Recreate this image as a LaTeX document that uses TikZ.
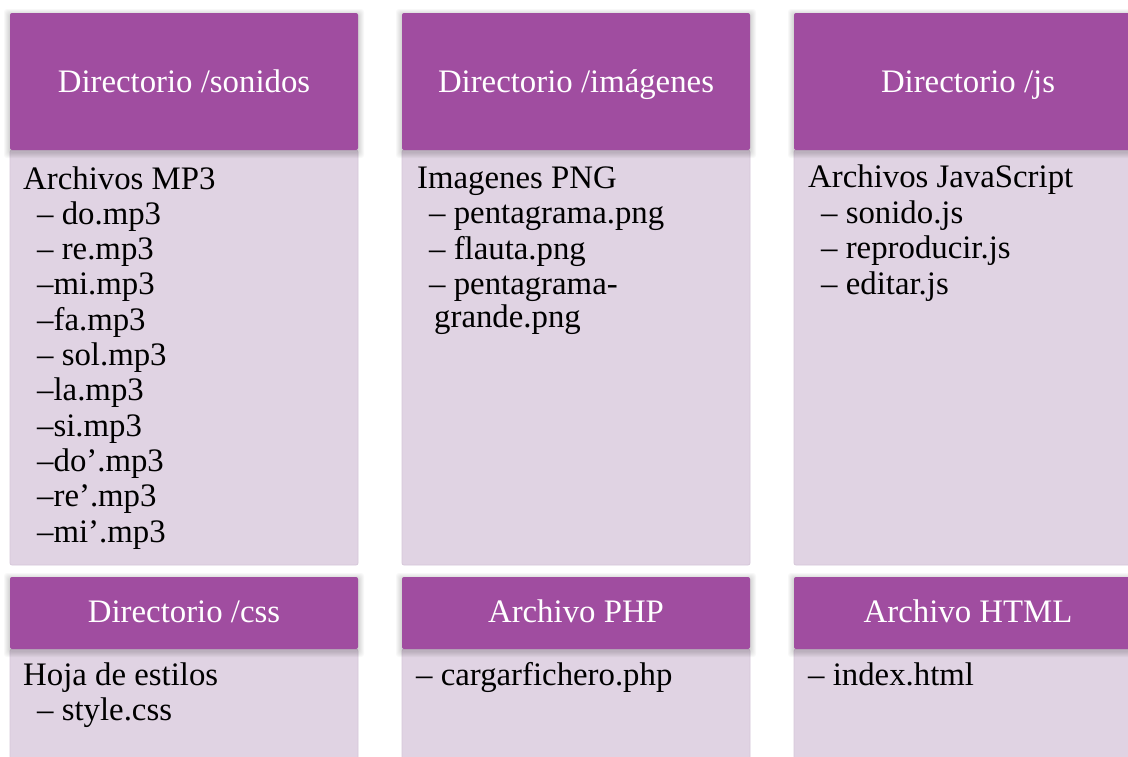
\documentclass[tikz,border=0pt]{standalone}
\usepackage{fontspec}
\setmainfont{Liberation Serif}
\definecolor{hdr}{RGB}{160,77,160}
\definecolor{bdy}{RGB}{224,211,227}
\definecolor{bdyline}{RGB}{214,199,218}
\newcommand\headbox[4]{%
  \foreach \i in {1,...,6}{\fill[black,opacity=0.028,rounded corners=3pt] (#1-\i,#2-\i+2) rectangle (#3+\i,#4+\i+2);}
  \fill[hdr,rounded corners=2pt] (#1,#2) rectangle (#3,#4);}
\newcommand\bodybox[4]{%
  \filldraw[fill=bdy,draw=bdyline,line width=0.8pt,rounded corners=2pt] (#1,#2) rectangle (#3,#4);}
\begin{document}
\begin{tikzpicture}[x=1pt,y=-1pt,
  hdrtext/.style={text=white,font=\fontsize{32.8}{36}\selectfont,anchor=base,inner sep=0pt},
  bodytext/.style={text=black,font=\fontsize{32.8}{36}\selectfont,anchor=base west,inner sep=0pt}]
\useasboundingbox (0,0) rectangle (1128,756);
\clip (0,0) rectangle (1128,756);
\fill[white] (0,0) rectangle (1128,756);
% row 1 bodies
\bodybox{10}{150}{358}{565}
\bodybox{402}{150}{750}{565}
\bodybox{794}{150}{1142}{565}
% row 1 headers
\headbox{10}{13}{358}{150}
\headbox{402}{13}{750}{150}
\headbox{794}{13}{1142}{150}
% row 2 bodies
\bodybox{10}{649}{358}{790}
\bodybox{402}{649}{750}{790}
\bodybox{794}{649}{1142}{790}
% row 2 headers
\headbox{10}{577}{358}{649}
\headbox{402}{577}{750}{649}
\headbox{794}{577}{1142}{649}
% header texts
\node[hdrtext] (h1) at (184,92) {Directorio /sonidos};
\node[hdrtext] (h2) at (576,92) {Directorio /imágenes};
\node[hdrtext] (h3) at (968,92) {Directorio /js};
\node[hdrtext] (h4) at (184,622) {Directorio /css};
\node[hdrtext] (h5) at (576,622) {Archivo PHP};
\node[hdrtext] (h6) at (968,622) {Archivo HTML};
% column 1 body
\node[bodytext] (a0) at (23,189) {Archivos MP3};
\node[bodytext] (a1) at (37,224.3) {– do.mp3};
\node[bodytext] (a2) at (37,259.6) {– re.mp3};
\node[bodytext] (a3) at (37,294.9) {–mi.mp3};
\node[bodytext] (a4) at (37,330.2) {–fa.mp3};
\node[bodytext] (a5) at (37,365.5) {– sol.mp3};
\node[bodytext] (a6) at (37,400.8) {–la.mp3};
\node[bodytext] (a7) at (37,436.1) {–si.mp3};
\node[bodytext] (a8) at (37,471.4) {–do’.mp3};
\node[bodytext] (a9) at (37,506.7) {–re’.mp3};
\node[bodytext] (a10) at (37,542) {–mi’.mp3};
% column 2 body
\node[bodytext] (b0) at (417,188) {Imagenes PNG};
\node[bodytext] (b1) at (429,223.5) {– pentagrama.png};
\node[bodytext] (b2) at (429,259) {– flauta.png};
\node[bodytext] (b3) at (429,294.5) {– pentagrama-};
\node[bodytext] (b4) at (434,327) {grande.png};
% column 3 body
\node[bodytext] (c0) at (808,187.5) {Archivos JavaScript};
\node[bodytext] (c1) at (821,223) {– sonido.js};
\node[bodytext] (c2) at (821,258.5) {– reproducir.js};
\node[bodytext] (c3) at (821,294) {– editar.js};
% row 2 bodies
\node[bodytext] (d0) at (23,685) {Hoja de estilos};
\node[bodytext] (d1) at (37,720) {– style.css};
\node[bodytext] (e0) at (416,685) {– cargarfichero.php};
\node[bodytext] (f0) at (808,685) {– index.html};
\end{tikzpicture}
\end{document}
